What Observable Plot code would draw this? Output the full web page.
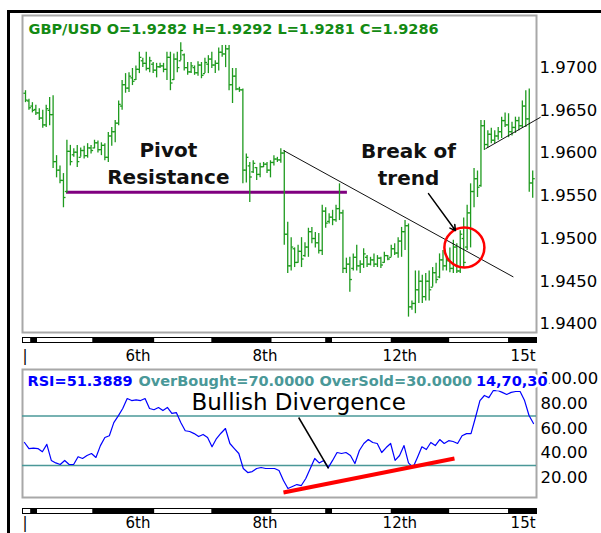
<!DOCTYPE html>
<html><head><meta charset="utf-8">
<script src="https://cdn.jsdelivr.net/npm/d3@7"></script>
<script src="https://cdn.jsdelivr.net/npm/@observablehq/plot@0.6"></script>
<style>
html,body{margin:0;padding:0;background:#fff;}
#wrap{position:relative;width:601px;height:533px;overflow:hidden;background:#fff;}
#border{position:absolute;left:7px;top:10px;width:700px;height:600px;border-left:3px solid #000;border-top:3px solid #000;pointer-events:none;z-index:10;}
</style></head><body><div id="wrap"><div id="border"></div></div><script>
// ---------- DATA ----------
const header = "GBP/USD O=1.9282 H=1.9292 L=1.9281 C=1.9286";
const priceTicks = [1.94, 1.945, 1.95, 1.955, 1.96, 1.965, 1.97];
const high = [
1.9673,1.9663,1.9659,1.9656,1.9652,1.9650,1.9656,1.9665,1.9667,1.9597,
1.9585,1.9576,1.9615,1.9609,1.9605,1.9609,1.9606,1.9608,1.9611,1.9609,
1.9615,1.9614,1.9612,1.9611,1.9624,1.9630,1.9638,1.9661,1.9685,1.9693,
1.9694,1.9699,1.9702,1.9718,1.9711,1.9718,1.9712,1.9706,1.9705,1.9705,
1.9705,1.9718,1.9718,1.9716,1.9718,1.9729,1.9716,1.9706,1.9706,1.9702,
1.9707,1.9706,1.9711,1.9714,1.9718,1.9708,1.9723,1.9726,1.9726,1.9726,
1.9699,1.9699,1.9677,1.9675,1.9599,1.9589,1.9591,1.9583,1.9588,1.9589,
1.9589,1.9591,1.9597,1.9595,1.9605,1.9603,1.9519,1.9501,1.9489,1.9492,
1.9501,1.9495,1.9512,1.9513,1.9507,1.9506,1.9539,1.9536,1.9529,1.9533,
1.9539,1.9564,1.9533,1.9477,1.9478,1.9482,1.9492,1.9474,1.9488,1.9480,
1.9478,1.9482,1.9480,1.9478,1.9484,1.9480,1.9492,1.9494,1.9501,1.9513,
1.9521,1.9517,1.9427,1.9462,1.9462,1.9457,1.9459,1.9462,1.9466,1.9471,
1.9482,1.9486,1.9478,1.9489,1.9498,1.9494,1.9509,1.9524,1.9539,1.9564,
1.9582,1.9579,1.9638,1.9638,1.9626,1.9629,1.9626,1.9630,1.9642,1.9647,
1.9646,1.9636,1.9642,1.9642,1.9661,1.9673,1.9675,1.9579];
const low = [
1.9659,1.9650,1.9647,1.9644,1.9638,1.9629,1.9630,1.9632,1.9582,1.9571,
1.9564,1.9536,1.9553,1.9585,1.9595,1.9583,1.9595,1.9593,1.9594,1.9599,
1.9605,1.9600,1.9597,1.9591,1.9589,1.9608,1.9612,1.9632,1.9650,1.9670,
1.9671,1.9679,1.9685,1.9693,1.9700,1.9696,1.9694,1.9693,1.9688,1.9699,
1.9694,1.9685,1.9673,1.9685,1.9694,1.9708,1.9696,1.9691,1.9693,1.9691,
1.9690,1.9687,1.9693,1.9693,1.9699,1.9693,1.9696,1.9712,1.9700,1.9673,
1.9658,1.9673,1.9671,1.9564,1.9565,1.9542,1.9576,1.9568,1.9571,1.9583,
1.9576,1.9571,1.9585,1.9589,1.9588,1.9492,1.9459,1.9462,1.9466,1.9471,
1.9466,1.9478,1.9478,1.9494,1.9489,1.9482,1.9480,1.9512,1.9517,1.9515,
1.9519,1.9521,1.9459,1.9459,1.9437,1.9462,1.9462,1.9459,1.9465,1.9466,
1.9468,1.9466,1.9466,1.9465,1.9471,1.9474,1.9478,1.9480,1.9477,1.9478,
1.9486,1.9408,1.9416,1.9412,1.9424,1.9424,1.9427,1.9427,1.9443,1.9447,
1.9453,1.9462,1.9462,1.9460,1.9459,1.9459,1.9459,1.9466,1.9486,1.9489,
1.9536,1.9548,1.9560,1.9603,1.9606,1.9611,1.9611,1.9615,1.9617,1.9630,
1.9618,1.9620,1.9623,1.9626,1.9629,1.9630,1.9554,1.9547];
const open = [
1.9670,1.9661,1.9655,1.9651,1.9647,1.9641,1.9633,1.9650,1.9645,1.9590,
1.9580,1.9568,1.9555,1.9602,1.9598,1.9601,1.9595,1.9603,1.9597,1.9606,
1.9606,1.9612,1.9604,1.9609,1.9595,1.9620,1.9625,1.9635,1.9655,1.9680,
1.9676,1.9688,1.9686,1.9698,1.9708,1.9705,1.9699,1.9704,1.9697,1.9701,
1.9702,1.9698,1.9712,1.9686,1.9710,1.9708,1.9715,1.9700,1.9695,1.9700,
1.9694,1.9703,1.9693,1.9704,1.9710,1.9703,1.9705,1.9718,1.9716,1.9722,
1.9680,1.9690,1.9675,1.9674,1.9580,1.9585,1.9578,1.9583,1.9575,1.9584,
1.9587,1.9580,1.9589,1.9593,1.9592,1.9600,1.9505,1.9468,1.9488,1.9472,
1.9485,1.9480,1.9490,1.9508,1.9500,1.9495,1.9486,1.9532,1.9520,1.9525,
1.9522,1.9535,1.9530,1.9465,1.9470,1.9465,1.9478,1.9468,1.9470,1.9478,
1.9470,1.9475,1.9470,1.9477,1.9472,1.9480,1.9478,1.9488,1.9483,1.9497,
1.9508,1.9515,1.9420,1.9424,1.9440,1.9450,1.9432,1.9450,1.9443,1.9460,
1.9455,1.9475,1.9468,1.9474,1.9465,1.9490,1.9462,1.9500,1.9490,1.9530,
1.9555,1.9570,1.9562,1.9632,1.9610,1.9622,1.9615,1.9620,1.9625,1.9638,
1.9633,1.9625,1.9630,1.9638,1.9632,1.9655,1.9640,1.9565];
const close = [
1.9662,1.9653,1.9650,1.9647,1.9641,1.9633,1.9652,1.9645,1.9590,1.9580,
1.9568,1.9548,1.9602,1.9590,1.9601,1.9590,1.9603,1.9597,1.9606,1.9603,
1.9612,1.9604,1.9609,1.9595,1.9620,1.9625,1.9635,1.9657,1.9680,1.9676,
1.9690,1.9684,1.9698,1.9712,1.9705,1.9699,1.9708,1.9697,1.9701,1.9702,
1.9698,1.9712,1.9682,1.9710,1.9700,1.9720,1.9700,1.9695,1.9702,1.9694,
1.9703,1.9691,1.9706,1.9710,1.9703,1.9705,1.9718,1.9716,1.9722,1.9680,
1.9690,1.9675,1.9674,1.9580,1.9595,1.9572,1.9588,1.9575,1.9584,1.9587,
1.9580,1.9589,1.9593,1.9592,1.9600,1.9505,1.9468,1.9490,1.9472,1.9485,
1.9476,1.9490,1.9508,1.9500,1.9495,1.9486,1.9532,1.9518,1.9525,1.9522,
1.9535,1.9530,1.9465,1.9470,1.9452,1.9478,1.9468,1.9470,1.9482,1.9470,
1.9475,1.9470,1.9477,1.9469,1.9480,1.9476,1.9488,1.9483,1.9497,1.9508,
1.9515,1.9420,1.9424,1.9440,1.9450,1.9432,1.9450,1.9440,1.9460,1.9452,
1.9475,1.9468,1.9474,1.9465,1.9490,1.9462,1.9505,1.9472,1.9530,1.9555,
1.9570,1.9560,1.9632,1.9610,1.9622,1.9615,1.9620,1.9625,1.9638,1.9633,
1.9625,1.9630,1.9638,1.9632,1.9655,1.9640,1.9565,1.9570];
// RSI(14) values
const rsi = [48.5,43.6,44,43.6,41,47,34,32,30.7,34,
30.7,30.7,37,35.6,38,39.6,36.4,46,52.5,54,
64.6,70,76,84,82.4,83,82.4,84,76,75,
76.8,74.3,76.8,72,72.7,64.6,58,57.4,55.7,53.3,
55,52.5,45,51.7,56,59.8,47.7,43.6,39.6,27.5,
24.2,25,27.5,28.3,27.5,27.5,27.5,25.9,17.8,11.3,
12.9,14.5,13.7,19.4,27.5,35.6,32,34,28,34,
40.4,39.6,40.4,38,31.5,42,47.7,50.9,48.5,47.7,
40.4,44.4,47.7,34,38,46,32,28.3,36.4,45,
42.8,48.5,46,50.9,47.7,50,49.3,47.7,54,55.7,
55.7,68.7,82.4,86.5,84.8,90.5,90.5,89,87.3,89,
89.7,89.7,82.4,70.3,63.8];
const rsiLevels = [30, 70];
const rsiTicks = [20, 40, 60, 80, 100];
const rsiHeader = "RSI=51.3889";
const rsiLevelsText = "OverBought=70.0000 OverSold=30.0000";
const rsiParams = "14,70,30";
// day boundaries (bar index where each day begins) and date labels
const dayStarts = [1.5, 3.5, 19.5, 37.5, 54, 71.5, 87, 89, 106, 123, 140];
const dateLabels = ["|", "6th", "8th", "12th", "15t"];
const dateLabelAt = [-0.87, 29, 65.8, 103.5, 140.6];
// annotations
const pivotLevel = {price: 1.9554, from: 11.9, to: 93.3};
const trendLines = [
  {i1: 74.8, p1: 1.9603, i2: 141.4, p2: 1.9455},
  {i1: 133.3, p1: 1.9605, i2: 149.3, p2: 1.9642}];
const breakCircle = {i: 127.2, p: 1.94894};
const breakArrow = {i1: 116.8, p1: 1.95526, i2: 124.6, p2: 1.95093};
const priceNotes = [
  {i: 41.4, p: 1.9617, text: "Pivot\nResistance"},
  {i: 111, p: 1.9616, text: "Break of\ntrend"}];
const divergenceLine = {i1: 58.0, v1: 8.1, i2: 96.3, v2: 35.6};
const divergencePointer = {i1: 61.4, v1: 68.7, i2: 68.1, v2: 27.5};
const divergenceNote = {i: 61.4, v: 88.1, text: "Bullish Divergence"};

// ---------- CHART ----------
const FONT = "DejaVu Sans";
const W = 601, ML = 22, MR = 65;
const xDomain = [-0.87, 148.1];
const green = "#1e9a1e", teal = "#4a9898", blue = "#0000ff";
const bars = high.map((h, i) => ({i, h, l: low[i], o: open[i], c: close[i]}));
const bounds = [xDomain[0], ...dayStarts, xDomain[1]];
const segs = bounds.slice(0, -1).map((s, k) => ({x1: s, x2: bounds[k + 1], fill: k % 2 ? "#000" : "#fff"}));
const labels = dateLabels.map((t, k) => ({t, i: dateLabelAt[k]}));
const wrap = document.getElementById("wrap");
function place(svg, top) {
  svg.style.position = "absolute"; svg.style.left = "0px"; svg.style.top = top + "px";
  svg.style.background = "transparent"; svg.style.maxWidth = "none"; svg.style.overflow = "visible";
  wrap.insertBefore(svg, document.getElementById("border"));
}
const baseStyle = {fontFamily: FONT, fontSize: "16.5px", background: "transparent", overflow: "visible"};

const price = Plot.plot({
  width: W, height: 336, marginTop: 15, marginBottom: 4, marginLeft: ML, marginRight: MR,
  x: {domain: xDomain, axis: null},
  y: {domain: [1.9390, 1.9761], axis: null},
  style: baseStyle,
  marks: [
    Plot.frame({stroke: "#a8a8a8", strokeWidth: 2}),
    Plot.ruleY([pivotLevel], {y: "price", x1: "from", x2: "to", stroke: "#800080", strokeWidth: 3}),
    Plot.ruleX(bars, {x: "i", y1: "l", y2: "h", stroke: green, strokeWidth: 1.3}),
    Plot.link(bars, {x1: d => d.i - 0.6, x2: "i", y1: "o", y2: "o", stroke: green, strokeWidth: 1.3}),
    Plot.link(bars, {x1: "i", x2: d => d.i + 0.6, y1: "c", y2: "c", stroke: green, strokeWidth: 1.3}),
    Plot.link(trendLines, {x1: "i1", y1: "p1", x2: "i2", y2: "p2", stroke: "#111", strokeWidth: 1}),
    Plot.dot([breakCircle], {x: "i", y: "p", r: 20, stroke: "#ff0000", strokeWidth: 2.5, fill: "none"}),
    Plot.arrow([breakArrow], {x1: "i1", y1: "p1", x2: "i2", y2: "p2", stroke: "#000", strokeWidth: 1.5, headLength: 6}),
    Plot.text(priceNotes, {x: "i", y: "p", text: "text", lineAnchor: "top", lineHeight: 1.32, fontSize: 20, fontWeight: "bold", fill: "#111", fontFamily: FONT}),
    Plot.text([header], {frameAnchor: "top-left", dx: 6, dy: 8, lineAnchor: "top", textAnchor: "start", fill: "#138a13", fontWeight: "bold", fontSize: 14.5, fontFamily: FONT}),
    Plot.axisY(priceTicks, {anchor: "right", tickSize: 0, tickPadding: 3, tickFormat: d => d.toFixed(4), label: null})
  ]
});
place(price, 0);

function strip(top, height, mt, mb, labelDy) {
  const s = Plot.plot({
    width: W, height, marginTop: mt, marginBottom: mb, marginLeft: ML, marginRight: MR,
    x: {domain: xDomain, axis: null}, color: {type: "identity"},
    style: baseStyle,
    marks: [
      Plot.rect(segs, {x1: "x1", x2: "x2", fill: "fill"}),
      Plot.frame({stroke: "#000", strokeWidth: 1}),
      Plot.text(labels, {x: "i", text: "t", frameAnchor: "bottom", lineAnchor: "top", textAnchor: "start", dy: labelDy, fontSize: 15, fill: "#000", fontFamily: FONT})
    ]
  });
  place(s, top);
}
strip(330, 36, 7, 24, 8);

const rsiPlot = Plot.plot({
  width: W, height: 140, marginTop: 9, marginBottom: 3, marginLeft: ML, marginRight: MR,
  x: {domain: [-0.45, 114.67], axis: null},
  y: {domain: [4.04, 107.5], axis: null},
  style: baseStyle,
  marks: [
    Plot.frame({stroke: "#a8a8a8", strokeWidth: 2}),
    Plot.ruleY(rsiLevels, {stroke: teal, strokeWidth: 1.5}),
    Plot.line(rsi, {x: (d, i) => i, y: d => d, stroke: blue, strokeWidth: 1.2}),
    Plot.link([divergenceLine], {x1: "i1", y1: "v1", x2: "i2", y2: "v2", stroke: "#ff0000", strokeWidth: 4}),
    Plot.link([divergencePointer], {x1: "i1", y1: "v1", x2: "i2", y2: "v2", stroke: "#000", strokeWidth: 1.5}),
    Plot.text([divergenceNote], {x: "i", y: "v", text: "text", lineAnchor: "top", fontSize: 23, fill: "#000", fontFamily: FONT}),
    Plot.axisY(rsiTicks, {anchor: "right", tickSize: 0, tickPadding: 4, tickFormat: d => d.toFixed(2), label: null}),
    Plot.text([rsiHeader], {frameAnchor: "top-left", dx: 5, dy: 6, lineAnchor: "top", textAnchor: "start", fill: blue, fontWeight: "bold", fontSize: 14.5, fontFamily: FONT}),
    Plot.text([rsiLevelsText], {frameAnchor: "top-left", dx: 116, dy: 6, lineAnchor: "top", textAnchor: "start", fill: teal, fontWeight: "bold", fontSize: 14.5, fontFamily: FONT}),
    Plot.text([rsiParams], {frameAnchor: "top-right", dx: 11, dy: 6, lineAnchor: "top", textAnchor: "end", fill: blue, stroke: "#fff", strokeWidth: 5, fontWeight: "bold", fontSize: 14.5, fontFamily: FONT})
  ]
});
place(rsiPlot, 360);
strip(501, 32, 7, 20, 4);
</script></body></html>
